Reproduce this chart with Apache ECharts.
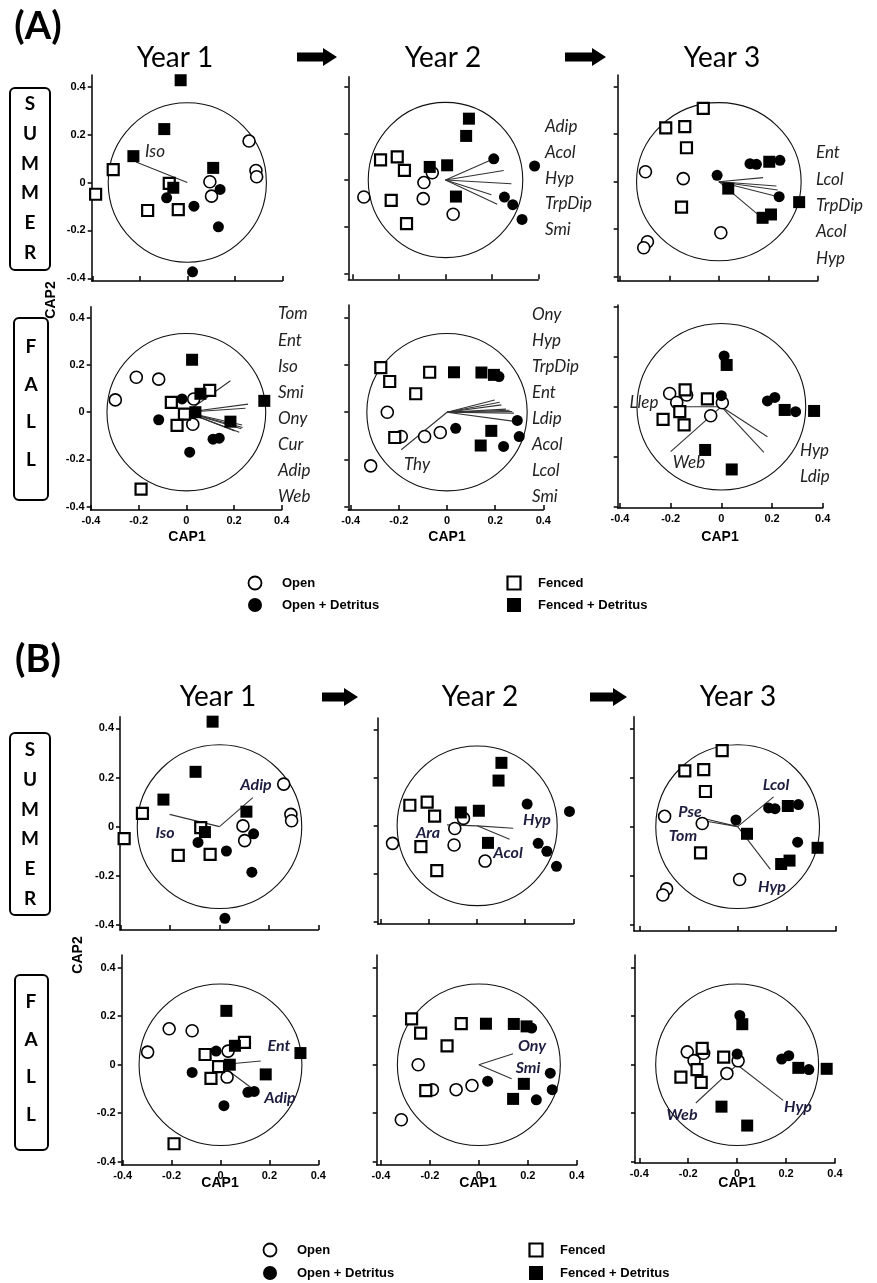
<!DOCTYPE html>
<html><head><meta charset="utf-8">
<script src="https://cdn.jsdelivr.net/npm/echarts@6/dist/echarts.min.js"></script>
<style>html,body{margin:0;padding:0;background:#fff}#c{width:877px;height:1283px}</style>
</head><body><div id="c"></div>
<script>
// ================= DATA =================
const tickValues = [-0.4, -0.2, 0, 0.2, 0.4];
const tickLabels = ['-0.4', '-0.2', '0', '0.2', '0.4'];
const circleRadius = 0.333;

const summer1_open = [[0.26,0.173],[0.289,0.05],[0.292,0.024],[0.095,0.003],[0.102,-0.057]];
const summer1_openDetritus = [[-0.087,-0.064],[0.028,-0.099],[0.138,-0.029],[0.131,-0.185],[0.022,-0.373]];
const summer1_fenced = [[-0.312,0.054],[-0.386,-0.049],[-0.076,-0.004],[-0.167,-0.117],[-0.038,-0.113]];
const summer1_fencedDetritus = [[-0.028,0.427],[-0.097,0.223],[-0.227,0.11],[0.109,0.061],[-0.059,-0.022]];

const summer2_open = [[-0.352,-0.073],[-0.093,-0.011],[-0.057,0.031],[-0.096,-0.08],[0.033,-0.147]];
const summer2_openDetritus = [[0.208,0.091],[0.384,0.06],[0.254,-0.073],[0.29,-0.106],[0.33,-0.169]];
const summer2_fenced = [[-0.28,0.086],[-0.208,0.099],[-0.177,0.041],[-0.234,-0.087],[-0.168,-0.187]];
const summer2_fencedDetritus = [[0.101,0.263],[0.089,0.189],[-0.068,0.056],[0.007,0.063],[0.045,-0.071]];

const summer3_open = [[-0.297,0.042],[-0.144,0.013],[0.008,-0.215],[-0.289,-0.253],[-0.304,-0.278]];
const summer3_openDetritus = [[-0.007,0.027],[0.126,0.076],[0.152,0.073],[0.247,0.09],[0.244,-0.063]];
const summer3_fenced = [[-0.063,0.309],[-0.215,0.227],[-0.138,0.232],[-0.131,0.143],[-0.151,-0.107]];
const summer3_fencedDetritus = [[0.204,0.084],[0.038,-0.029],[0.325,-0.086],[0.177,-0.152],[0.211,-0.138]];

const fall1_open = [[-0.298,0.052],[-0.21,0.148],[-0.116,0.14],[0.031,0.056],[0.027,-0.051]];
const fall1_openDetritus = [[-0.018,0.056],[-0.116,-0.032],[0.014,-0.169],[0.112,-0.114],[0.138,-0.11]];
const fall1_fenced = [[0.098,0.092],[-0.063,0.042],[-0.008,-0.008],[-0.039,-0.056],[-0.19,-0.326]];
const fall1_fencedDetritus = [[0.024,0.222],[0.059,0.078],[0.038,0],[0.185,-0.04],[0.327,0.048]];

const fall2_open = [[-0.248,0],[-0.19,-0.103],[-0.093,-0.103],[-0.028,-0.086],[-0.317,-0.227]];
const fall2_openDetritus = [[0.216,0.151],[0.292,-0.035],[0.3,-0.103],[0.235,-0.145],[0.036,-0.068]];
const fall2_fenced = [[-0.275,0.189],[-0.238,0.13],[-0.13,0.078],[-0.072,0.169],[-0.217,-0.107]];
const fall2_fencedDetritus = [[0.029,0.169],[0.143,0.168],[0.195,0.158],[0.184,-0.079],[0.14,-0.141]];

const fall3_open = [[-0.204,0.053],[-0.176,0.017],[-0.137,0.047],[0.004,0.016],[-0.042,-0.036]];
const fall3_openDetritus = [[0.011,0.203],[0,0.044],[0.182,0.023],[0.211,0.037],[0.293,-0.02]];
const fall3_fenced = [[-0.143,0.067],[-0.055,0.031],[-0.164,-0.02],[-0.23,-0.051],[-0.147,-0.073]];
const fall3_fencedDetritus = [[0.021,0.167],[0.25,-0.013],[0.366,-0.017],[-0.064,-0.173],[0.041,-0.251]];

// species vectors (CAP1, CAP2 end points)
const A_S1_vectors = [[-0.216,0.086]];
const A_S1_names = ['Iso'];
const A_S2_vectors = [[0.208,0.091],[0.251,0.041],[0.284,-0.016],[0.198,-0.063],[0.223,-0.104]];
const A_S2_names = ['Adip','Acol','Hyp','TrpDip','Smi'];
const A_S3_vectors = [[0.179,0.017],[0.233,-0.018],[0.238,-0.035],[0.24,-0.063],[0.166,-0.145]];
const A_S3_names = ['Ent','Lcol','TrpDip','Acol','Hyp'];
const A_F1_vectors = [[0.185,0.133],[0.259,0.034],[0.248,0.017],[0.234,-0.054],[0.236,-0.065],[0.231,-0.07],[0.222,-0.085],[0.203,-0.079]];
const A_F1_names = ['Tom','Ent','Iso','Smi','Ony','Cur','Adip','Web'];
const A_F2_vectors = [[-0.19,-0.159],[0.198,0.052],[0.219,0.042],[0.226,0.031],[0.245,0.013],[0.26,0.008],[0.271,0.003],[0.278,-0.004],[0.288,-0.04]];
const A_F2_names = ['Thy','Ony','Hyp','TrpDip','Ent','Ldip','Acol','Lcol','Smi'];
const A_F3_vectors = [[-0.174,0],[-0.2,-0.18],[0.182,-0.12],[0.168,-0.183]];
const A_F3_names = ['Llep','Web','Hyp','Ldip'];

const B_S1_vectors = [[-0.202,0.05],[0.135,0.118]];
const B_S1_names = ['Iso','Adip'];
const B_S2_vectors = [[-0.125,0.004],[0.15,-0.01],[0.135,-0.056]];
const B_S2_names = ['Ara','Hyp','Acol'];
const B_S3_vectors = [[0.146,0.121],[-0.125,0.03],[-0.132,0.023],[0.133,-0.174]];
const B_S3_names = ['Lcol','Pse','Tom','Hyp'];
const B_F1_vectors = [[0.165,0.015],[0.127,-0.096]];
const B_F1_names = ['Ent','Adip'];
const B_F2_vectors = [[0.14,0.045],[0.134,-0.058]];
const B_F2_names = ['Ony','Smi'];
const B_F3_vectors = [[-0.169,-0.158],[0.188,-0.147]];
const B_F3_names = ['Web','Hyp'];

const yearTitles = ['Year 1','Year 2','Year 3'];
const legendNames = ['Open','Open + Detritus','Fenced','Fenced + Detritus'];

// ================= LAYOUT =================
const S1 = {open:summer1_open, openDet:summer1_openDetritus, fenced:summer1_fenced, fencedDet:summer1_fencedDetritus};
const S2 = {open:summer2_open, openDet:summer2_openDetritus, fenced:summer2_fenced, fencedDet:summer2_fencedDetritus};
const S3 = {open:summer3_open, openDet:summer3_openDetritus, fenced:summer3_fenced, fencedDet:summer3_fencedDetritus};
const F1 = {open:fall1_open, openDet:fall1_openDetritus, fenced:fall1_fenced, fencedDet:fall1_fencedDetritus};
const F2 = {open:fall2_open, openDet:fall2_openDetritus, fenced:fall2_fenced, fencedDet:fall2_fencedDetritus};
const F3 = {open:fall3_open, openDet:fall3_openDetritus, fenced:fall3_fenced, fencedDet:fall3_fencedDetritus};

// geometry: ax = y-axis line x; x0/x1 = pixel of -0.4/0.4; y0/y1 = pixel of 0.4/-0.4; top/bottom of axes
const panels = [
  {d:S1, v:A_S1_vectors, g:{ax:91.7,x0:92.3,x1:282.3,y0:86.7,y1:278.3,top:75,bottom:281}, sy:true, sx:false},
  {d:S2, v:A_S2_vectors, g:{ax:348.3,x0:352.7,x1:538.3,y0:86.7,y1:273.3,top:76.7,bottom:279.3}, sy:false, sx:false},
  {d:S3, v:A_S3_vectors, g:{ax:617.7,x0:620,x1:817.7,y0:86.7,y1:276.7,top:75,bottom:280.7}, sy:false, sx:false},
  {d:F1, v:A_F1_vectors, g:{ax:90.7,x0:91,x1:281.7,y0:317.7,y1:506.7,top:306.7,bottom:510}, sy:true, sx:true},
  {d:F2, v:A_F2_vectors, g:{ax:348.3,x0:350.7,x1:543.3,y0:317.7,y1:506.7,top:305,bottom:510}, sy:false, sx:true},
  {d:F3, v:A_F3_vectors, g:{ax:617.7,x0:620,x1:822.7,y0:306.7,y1:506.7,top:305,bottom:508}, sy:false, sx:true},
  {d:S1, v:B_S1_vectors, g:{ax:120,x0:120.7,x1:318.3,y0:728.3,y1:925,top:716.7,bottom:930}, sy:true, sx:false},
  {d:S2, v:B_S2_vectors, g:{ax:377.7,x0:381,x1:573.3,y0:730,y1:921.7,top:718,bottom:924}, sy:false, sx:false},
  {d:S3, v:B_S3_vectors, g:{ax:634,x0:639.3,x1:836,y0:728.3,y1:925,top:716.7,bottom:931}, sy:false, sx:false},
  {d:F1, v:B_F1_vectors, g:{ax:121.7,x0:122.7,x1:318.3,y0:967.7,y1:1161.7,top:955,bottom:1165}, sy:true, sx:true},
  {d:F2, v:B_F2_vectors, g:{ax:376.7,x0:381,x1:576.7,y0:967.7,y1:1161.7,top:955,bottom:1165}, sy:false, sx:true},
  {d:F3, v:B_F3_vectors, g:{ax:635,x0:639.3,x1:835,y0:967.7,y1:1161.7,top:955,bottom:1163}, sy:false, sx:true}
];

function tickFmt(v){
  let best = 0;
  tickValues.forEach((t,i)=>{ if (Math.abs(t-v) < Math.abs(tickValues[best]-v)) best = i; });
  return tickLabels[best];
}

const grids = [], xAxes = [], yAxes = [], series = [];
const axisFont = {fontSize:11, fontWeight:'bold', color:'#000', fontFamily:'Liberation Sans, Arial'};

panels.forEach((p, i) => {
  const g = p.g;
  const pxX = (g.x1 - g.x0) / 0.8, pxY = (g.y1 - g.y0) / 0.8;
  const xmin = -0.4 - (g.x0 - g.ax) / pxX;
  const ymax = 0.4 + (g.y0 - g.top) / pxY;
  const ymin = -0.4 - (g.bottom - g.y1) / pxY;
  grids.push({left:g.ax, top:g.top, width:g.x1 - g.ax, height:g.bottom - g.top, containLabel:false});
  xAxes.push({type:'value', gridIndex:i, min:xmin, max:0.4,
    axisLine:{show:true, onZero:false, lineStyle:{color:'#000', width:1.5}},
    axisTick:{show:true, inside:true, length:5, customValues:tickValues, lineStyle:{color:'#000', width:1.5}},
    axisLabel:Object.assign({show:p.sx, customValues:tickValues, formatter:tickFmt, margin:5}, axisFont),
    splitLine:{show:false}});
  yAxes.push({type:'value', gridIndex:i, min:ymin, max:ymax,
    axisLine:{show:true, onZero:false, lineStyle:{color:'#000', width:1.5}},
    axisTick:{show:true, inside:false, length:4, customValues:tickValues, lineStyle:{color:'#000', width:1.5}},
    axisLabel:Object.assign({show:p.sy, customValues:tickValues, formatter:tickFmt, margin:6}, axisFont),
    splitLine:{show:false}});
  // correlation circle
  series.push({type:'custom', xAxisIndex:i, yAxisIndex:i, z:1, silent:true, clip:false, data:[[0,0]],
    renderItem:(params, api) => {
      const c = api.coord([0,0]); const e = api.coord([circleRadius, circleRadius]);
      return {type:'ellipse', shape:{cx:c[0], cy:c[1], rx:e[0]-c[0], ry:c[1]-e[1]},
        style:{fill:'none', stroke:'#111', lineWidth:1.1}};
    }});
  // vectors
  series.push({type:'custom', xAxisIndex:i, yAxisIndex:i, z:2, silent:true, clip:false, data:p.v,
    renderItem:(params, api) => {
      const c = api.coord([0,0]); const e = api.coord([api.value(0), api.value(1)]);
      return {type:'line', shape:{x1:c[0], y1:c[1], x2:e[0], y2:e[1]}, style:{stroke:'#333', lineWidth:1.1}};
    }});
  series.push({type:'scatter', name:'Open', xAxisIndex:i, yAxisIndex:i, z:3, data:p.d.open, symbol:'circle', symbolSize:12,
    itemStyle:{color:'#fff', borderColor:'#000', borderWidth:1.6, opacity:1}});
  series.push({type:'scatter', name:'Fenced', xAxisIndex:i, yAxisIndex:i, z:3, data:p.d.fenced, symbol:'rect', symbolSize:11,
    itemStyle:{color:'#fff', borderColor:'#000', borderWidth:2.2, opacity:1}});
  series.push({type:'scatter', name:'Open + Detritus', xAxisIndex:i, yAxisIndex:i, z:4, data:p.d.openDet, symbol:'circle', symbolSize:11,
    itemStyle:{color:'#000', opacity:1}});
  series.push({type:'scatter', name:'Fenced + Detritus', xAxisIndex:i, yAxisIndex:i, z:4, data:p.d.fencedDet, symbol:'rect', symbolSize:12,
    itemStyle:{color:'#000', opacity:1}});
});

// ================= GRAPHICS (texts, boxes) =================
const G = [];
function T(text, x, y, font, o) {
  G.push({type:'text', x:x, y:y, silent:true, z:10,
    style:Object.assign({text:text, fill:'#000', align:'center', verticalAlign:'middle', font:font}, o || {})});
}
function box(x, y, w, h) {
  G.push({type:'rect', silent:true, shape:{x:x, y:y, width:w, height:h, r:5}, style:{fill:'none', stroke:'#000', lineWidth:2}});
}
function arrow(x1, x2, y) {
  G.push({type:'polygon', silent:true, shape:{points:[[x1,y-4.5],[x2-14,y-4.5],[x2-14,y-9],[x2,y],[x2-14,y+9],[x2-14,y+4.5],[x1,y+4.5]]}, style:{fill:'#000'}});
}

const headFont = '700 38px Lato';
const yearFont = '28px Lato';
const sideFont = '700 19px Lato';
const capFont = '700 14px "Liberation Sans", Arial';
const legFont = '700 13px "Liberation Sans", Arial';
const spA = 'italic 17px Lato';
const spB = 'italic 700 16px Lato';
const spBColor = {fill:'#1d1d3f'};

// Part A
T('(A)', 38, 27, headFont);
T(yearTitles[0], 175, 58, yearFont); T(yearTitles[1], 443, 58, yearFont); T(yearTitles[2], 722, 58, yearFont);
arrow(297, 337, 57); arrow(565, 606, 57);
box(10, 88, 40, 182);
['S','U','M','M','E','R'].forEach((c,k) => T(c, 30, 104 + k*29.7, sideFont));
box(14, 318, 34, 182);
['F','A','L','L'].forEach((c,k) => T(c, 31, 347 + k*37.5, sideFont));
T('CAP2', 51, 300, capFont, {}); 
T('CAP1', 187, 537, capFont); T('CAP1', 447, 537, capFont); T('CAP1', 720, 537, capFont);

// species labels part A
T(A_S1_names[0], 155, 152, spA, {fill:'#222'});
A_S2_names.forEach((n,k) => T(n, 545, 127 + k*25.6, spA, {align:'left', fill:'#222'}));
A_S3_names.forEach((n,k) => T(n, 816, 153 + k*26.3, spA, {align:'left', fill:'#222'}));
A_F1_names.forEach((n,k) => T(n, 278, 314 + k*26.1, spA, {align:'left', fill:'#222'}));
A_F2_names.slice(1).forEach((n,k) => T(n, 532, 315 + k*26, spA, {align:'left', fill:'#222'}));
T(A_F2_names[0], 417, 465, spA, {fill:'#222'});
T(A_F3_names[0], 644, 403, spA, {fill:'#222'});
T(A_F3_names[1], 689, 463, spA, {fill:'#222'});
T(A_F3_names[2], 800, 451, spA, {align:'left', fill:'#222'});
T(A_F3_names[3], 800, 477, spA, {align:'left', fill:'#222'});

// legend A
function legend(cx1, cx2, y1, y2, tx1, tx2) {
  G.push({type:'circle', silent:true, shape:{cx:cx1, cy:y1, r:6.5}, style:{fill:'#fff', stroke:'#000', lineWidth:1.8}});
  G.push({type:'circle', silent:true, shape:{cx:cx1, cy:y2, r:7}, style:{fill:'#000'}});
  G.push({type:'rect', silent:true, shape:{x:cx2-6.5, y:y1-6.5, width:13, height:13}, style:{fill:'#fff', stroke:'#000', lineWidth:2.2}});
  G.push({type:'rect', silent:true, shape:{x:cx2-7, y:y2-7, width:14, height:14}, style:{fill:'#000'}});
  T(legendNames[0], tx1, y1, legFont, {align:'left'});
  T(legendNames[1], tx1, y2, legFont, {align:'left'});
  T(legendNames[2], tx2, y1, legFont, {align:'left'});
  T(legendNames[3], tx2, y2, legFont, {align:'left'});
}
legend(255, 514, 583, 605, 282, 538);

// Part B
T('(B)', 38, 660, headFont);
T(yearTitles[0], 218, 697, yearFont); T(yearTitles[1], 480, 697, yearFont); T(yearTitles[2], 738, 697, yearFont);
arrow(322, 358, 697); arrow(590, 627, 697);
box(10, 733, 40, 182);
['S','U','M','M','E','R'].forEach((c,k) => T(c, 30, 750 + k*29.7, sideFont));
box(15, 975, 33, 175);
['F','A','L','L'].forEach((c,k) => T(c, 31, 1002 + k*37.5, sideFont));
T('CAP2', 78, 955, capFont);
T('CAP1', 220, 1183, capFont); T('CAP1', 478, 1183, capFont); T('CAP1', 737, 1183, capFont);

// species labels part B
T(B_S1_names[0], 165, 833, spB, spBColor);
T(B_S1_names[1], 256, 785, spB, spBColor);
T(B_S2_names[0], 428, 833, spB, spBColor);
T(B_S2_names[1], 537, 820, spB, spBColor);
T(B_S2_names[2], 508, 853, spB, spBColor);
T(B_S3_names[0], 776, 785, spB, spBColor);
T(B_S3_names[1], 690, 812, spB, spBColor);
T(B_S3_names[2], 683, 836, spB, spBColor);
T(B_S3_names[3], 772, 887, spB, spBColor);
T(B_F1_names[0], 279, 1046, spB, spBColor);
T(B_F1_names[1], 280, 1098, spB, spBColor);
T(B_F2_names[0], 532, 1046, spB, spBColor);
T(B_F2_names[1], 528, 1068, spB, spBColor);
T(B_F3_names[0], 682, 1115, spB, spBColor);
T(B_F3_names[1], 798, 1107, spB, spBColor);

legend(270, 536, 1250, 1273, 297, 560);

// CAP2 rotated labels
G.forEach(e => {
  if (e.type === 'text' && e.style.text === 'CAP2') { e.rotation = Math.PI / 2; }
});

const chart = echarts.init(document.getElementById('c'), null, {renderer:'canvas', width:877, height:1283});
chart.setOption({
  backgroundColor:'#fff',
  animation:false,
  grid:grids, xAxis:xAxes, yAxis:yAxes, series:series,
  graphic:G
});
</script></body></html>
